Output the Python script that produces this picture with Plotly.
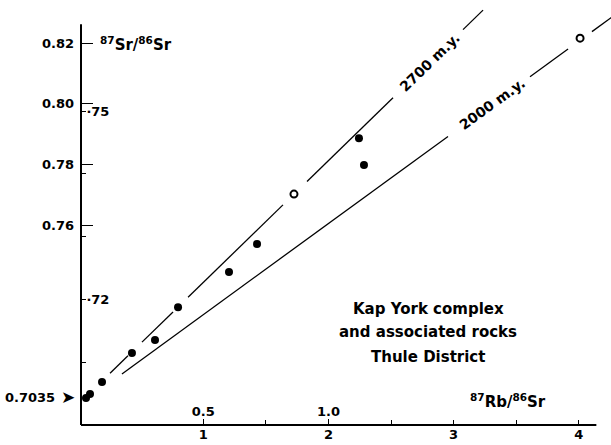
import plotly.graph_objects as go

# ---- data ----
# filled symbols: 87Rb/86Sr , 87Sr/86Sr
filled_rb = [0.064, 0.096, 0.192, 0.431, 0.615, 0.799, 1.206, 1.430, 2.244, 2.284]
filled_sr = [0.7032, 0.7045, 0.7085, 0.7180, 0.7223, 0.7331, 0.7447, 0.7539, 0.7887, 0.7799]
# open symbols
open_rb = [1.725, 4.010]
open_sr = [0.7703, 0.8216]

# isochrons: label, intercept, slope, visible pieces (x ranges)
iso_labels = ["2700 m.y.", "2000 m.y."]
iso_intercepts = [0.7011, 0.7006]
iso_slopes = [0.0401, 0.0300]
iso_pieces = [
    [(0.256, 0.399), (0.511, 0.759), (0.879, 1.637), (1.829, 2.516), (3.075, 3.235)],
    [(0.351, 2.955), (3.610, 3.914), (4.105, 4.265)],
]
iso_label_x = [2.81, 3.307]
iso_label_angle = [-44, -36]

# axis ticks
y_tickvals = [0.76, 0.78, 0.80, 0.82]
y_ticktext = ["0.76", "0.78", "0.80", "0.82"]
y2_tickvals = [0.71, 0.72, 0.73, 0.74, 0.75]
y2_ticktext = ["", "·72", "", "", "·75"]
x_tickvals = [1, 1.5, 2, 2.5, 3, 3.5, 4]
x_ticktext = ["1", "", "2", "", "3", "", "4"]
x2_tickvals = [0.5, 1.0]
x2_ticktext = ["0.5", "1.0"]
initial_ratio = 0.7035

FONT = "DejaVu Sans"
fig = go.Figure()

for lab, b, m, pieces in zip(iso_labels, iso_intercepts, iso_slopes, iso_pieces):
    xs, ys = [], []
    for a, c in pieces:
        xs += [a, c, None]
        ys += [b + m * a, b + m * c, None]
    fig.add_trace(go.Scatter(x=xs, y=ys, mode="lines",
                             line=dict(color="black", width=1.3),
                             showlegend=False, hoverinfo="skip", cliponaxis=False))

fig.add_trace(go.Scatter(x=filled_rb, y=filled_sr, mode="markers",
                         marker=dict(symbol="circle", size=8, color="black"),
                         showlegend=False))
fig.add_trace(go.Scatter(x=open_rb, y=open_sr, mode="markers",
                         marker=dict(symbol="circle-open", size=7, color="black",
                                     line=dict(width=2)),
                         showlegend=False, cliponaxis=False))

XR = [0.024, 4.257]
YR = [0.69433, 0.83415]
Y2R = [0.69996, 0.76769]

tickfont = dict(family=FONT, size=13, color="black", weight="bold")

fig.update_layout(
    width=611, height=445,
    margin=dict(l=81, r=0, t=0, b=20),
    paper_bgcolor="white", plot_bgcolor="white",
    xaxis=dict(range=XR, tickvals=x_tickvals, ticktext=x_ticktext,
               ticks="inside", ticklen=5, tickwidth=1.2, tickcolor="black",
               showgrid=False, zeroline=False, showline=False, tickfont=tickfont),
    xaxis2=dict(range=[XR[0] / 2, XR[1] / 2], overlaying="x", anchor="y", side="bottom",
                tickvals=x2_tickvals, ticktext=x2_ticktext,
                ticks="inside", ticklen=6, tickwidth=1.2, tickcolor="black",
                ticklabelposition="inside", showgrid=False, zeroline=False,
                showline=False, tickfont=tickfont),
    yaxis=dict(range=YR, tickvals=y_tickvals, ticktext=y_ticktext,
               ticks="inside", ticklen=12, tickwidth=1.2, tickcolor="black",
               ticklabelstandoff=6,
               showgrid=False, zeroline=False, showline=False, tickfont=tickfont),
    yaxis2=dict(range=Y2R, overlaying="y", anchor="x", side="left",
                tickvals=y2_tickvals, ticktext=y2_ticktext,
                ticks="inside", ticklen=5, tickwidth=1.2, tickcolor="black",
                ticklabelposition="inside", showgrid=False, zeroline=False,
                showline=False, tickfont=tickfont),
)

# dummy trace to activate secondary axes
fig.add_trace(go.Scatter(x=[None], y=[None], xaxis="x2", yaxis="y2", showlegend=False))

# axis lines
fig.add_shape(type="line", xref="paper", yref="y", x0=0, x1=0, y0=YR[0], y1=0.8262,
              line=dict(color="black", width=2))
fig.add_shape(type="line", xref="x", yref="paper", x0=XR[0], x1=4.14, y0=0, y1=0,
              line=dict(color="black", width=2))

# isochron labels
for lab, b, m, lx, ang in zip(iso_labels, iso_intercepts, iso_slopes, iso_label_x, iso_label_angle):
    fig.add_annotation(x=lx, y=b + m * lx, text=lab, showarrow=False, textangle=ang,
                       font=dict(family=FONT, size=14, color="black", weight="bold"))

# axis titles
fig.add_annotation(xref="paper", yref="paper", x=0.032, y=0.896, xanchor="left", yanchor="middle",
                   text="<sup>87</sup>Sr/<sup>86</sup>Sr", showarrow=False,
                   font=dict(family=FONT, size=15, color="black", weight="bold"))
fig.add_annotation(xref="paper", yref="paper", x=0.730, y=0.056, xanchor="left", yanchor="middle",
                   text="<sup>87</sup>Rb/<sup>86</sup>Sr", showarrow=False,
                   font=dict(family=FONT, size=15, color="black", weight="bold"))

# initial ratio marker
fig.add_annotation(xref="paper", yref="y", x=-0.046, y=initial_ratio, xanchor="right",
                   yanchor="middle", text=f"{initial_ratio}", showarrow=False,
                   font=dict(family=FONT, size=13, color="black", weight="bold"))
fig.add_annotation(xref="paper", yref="y", x=-0.008, y=initial_ratio, xanchor="right",
                   yanchor="middle", text="➤", showarrow=False,
                   font=dict(family=FONT, size=17, color="black", weight="bold"))

# caption text
caption = ["Kap York complex", "and associated rocks", "Thule District"]
cap_y = [0.273, 0.219, 0.160]
for t, yy in zip(caption, cap_y):
    fig.add_annotation(xref="paper", yref="paper", x=0.655, y=yy, text=t, showarrow=False,
                       xanchor="center", yanchor="middle",
                       font=dict(family=FONT, size=15, color="black", weight="bold"))

fig.write_html("out.html", config={"displayModeBar": False},
               post_script="document.body.style.margin='0';document.body.style.overflow='hidden';")
